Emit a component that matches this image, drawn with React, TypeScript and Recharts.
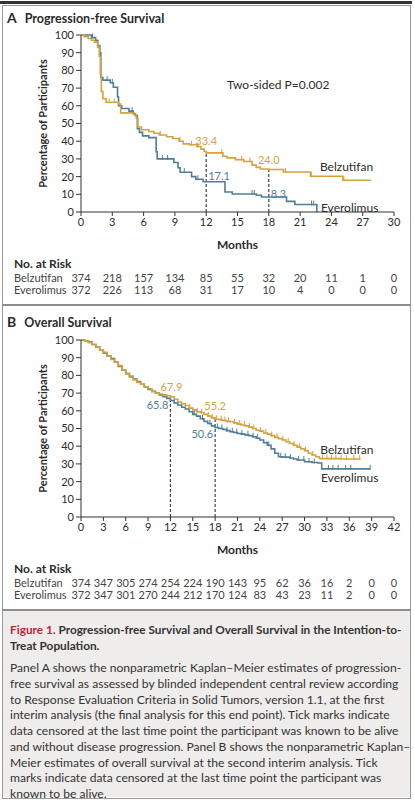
import React from "react";
import {
  ComposedChart,
  Line,
  Scatter,
  XAxis,
  YAxis,
  ReferenceLine,
  ReferenceDot,
} from "recharts";

if (typeof document !== "undefined") document.body.style.margin = "0";

const FONT = "Lato, 'Open Sans', sans-serif";
const GOLD = "#d6a13f";
const BLUE = "#4f7f97";
const INK = "#2b2b2b";

// Panel A: progression-free survival, [month, % of participants]
const pfsTicks = [0, 3, 6, 9, 12, 15, 18, 21, 24, 27, 30];
const pfsBelzutifan: [number, number][] = [
  [0, 100], [0.3, 99], [0.7, 98], [1.0, 97], [1.3, 96], [1.6, 93], [1.75, 88],
  [1.85, 78], [1.95, 68], [2.1, 64], [2.4, 62], [3.6, 61], [3.8, 56], [5.1, 55],
  [5.3, 53], [5.45, 48], [5.8, 46.5], [6.5, 45.5], [7.0, 44.5], [7.5, 43.5],
  [8.2, 42.5], [8.8, 41.5], [9.4, 40], [9.8, 38.5], [10.4, 38], [11.1, 37],
  [11.5, 35.5], [11.8, 34.2], [12.0, 33.4], [13.6, 31.5], [14.0, 30.6],
  [14.8, 29.6], [15.6, 28.5], [16.4, 26.5], [16.8, 25.2], [17.2, 24.3],
  [18.0, 24.0], [19.4, 22.6], [22.0, 20.2], [25.1, 17.9], [27.8, 17.9],
];
const pfsEverolimus: [number, number][] = [
  [0, 100], [1.0, 98.5], [1.4, 97], [1.6, 94], [1.8, 90], [1.9, 76], [2.1, 74.5],
  [2.8, 73], [3.1, 70.5], [3.5, 65], [3.6, 60], [3.9, 58.5], [4.6, 57], [5.0, 55.5],
  [5.2, 54.5], [5.4, 47], [5.6, 45], [5.9, 43], [6.5, 42], [7.2, 34], [7.3, 30],
  [8.9, 28], [9.3, 25], [9.5, 22.5], [10.6, 20], [11.0, 18.5], [11.7, 17.1],
  [13.8, 11.3], [14.5, 10.2], [16.8, 9.5], [17.3, 8.5], [19.7, 6.0], [20.5, 4.2],
  [22.6, 0],
];
const pfsCensorBelzutifan: [number, number][] = [
  [2.7, 62], [3.2, 62], [7.6, 43.5], [9.5, 40], [10.6, 38], [11.2, 37],
  [13.5, 33.4], [15.4, 29.6], [16.2, 28.5], [19.6, 22.6], [22.1, 20.2], [25.2, 17.9],
];
const pfsCensorEverolimus: [number, number][] = [
  [1.1, 98.5], [2.5, 74.5], [3.0, 73], [4.9, 57], [7.8, 30], [8.3, 30], [9.9, 22.5],
  [11.2, 18.5], [16.4, 10.2], [16.6, 10.2], [22.1, 4.2], [22.3, 4.2],
];
const pfsRiskBelzutifan = [374, 218, 157, 134, 85, 55, 32, 20, 11, 1, 0];
const pfsRiskEverolimus = [372, 226, 113, 68, 31, 17, 10, 4, 0, 0, 0];

// Panel B: overall survival, [month, % of participants]
const osTicks = [0, 3, 6, 9, 12, 15, 18, 21, 24, 27, 30, 33, 36, 39, 42];
const osBelzutifan: [number, number][] = [
  [0, 100], [0.5, 99.5], [1, 98.5], [1.5, 97.5], [2, 96], [2.5, 94.5], [3, 93],
  [3.5, 91], [4, 89], [4.5, 87.5], [5, 85.5], [5.5, 83], [6, 81], [6.5, 79],
  [7, 77.5], [7.5, 76], [8, 75], [8.5, 73.5], [9, 72.5], [9.5, 71], [10, 70],
  [10.5, 69.5], [11, 69], [11.5, 68.5], [12, 67.9], [12.5, 66.5], [13, 65],
  [13.5, 64], [14, 63], [14.5, 61.5], [15, 60.5], [15.5, 59.5], [16, 59],
  [16.5, 58], [17, 57], [17.5, 56], [18, 55.2], [18.5, 55], [19, 54.5], [19.5, 54],
  [20, 53.8], [20.5, 53.2], [21, 52.5], [21.5, 52], [22, 51.5], [22.5, 50.8],
  [23, 50], [23.5, 49], [24, 48.5], [24.5, 47.5], [25, 46.8], [25.5, 46], [26, 45],
  [26.5, 44.3], [27, 43.5], [27.5, 42.5], [28, 41.5], [28.5, 40.5], [29, 39.5],
  [29.5, 38.5], [30, 37.5], [30.5, 36], [31, 35], [31.5, 34], [32, 33],
  [34.8, 32.8], [37.5, 32.8],
];
const osEverolimus: [number, number][] = [
  [0, 100], [0.5, 99.5], [1, 98.8], [1.5, 97.5], [2, 96], [2.5, 94.5], [3, 92.5],
  [3.5, 91], [4, 89.5], [4.5, 87.5], [5, 85], [5.5, 83], [6, 81], [6.5, 79.5],
  [7, 78], [7.5, 76.5], [8, 75], [8.5, 73.5], [9, 72], [9.5, 71], [10, 70],
  [10.5, 69], [11, 68], [11.5, 67], [12, 65.8], [12.5, 64.5], [13, 63.3],
  [13.5, 62], [14, 61], [14.5, 59.5], [15, 58], [15.5, 57], [16, 55.5], [16.5, 54],
  [17, 52.8], [17.5, 51.5], [18, 50.6], [18.5, 50], [19, 49.5], [19.5, 48.8],
  [20, 48.2], [20.5, 47.7], [21, 47.2], [21.5, 46.8], [22, 46.4], [22.5, 46],
  [23, 45.3], [23.5, 44.5], [24, 43.5], [24.5, 42], [25, 40.5], [25.5, 38.5],
  [26, 36], [26.5, 34], [27, 33.8], [28, 33.3], [28.5, 32.8], [29, 32.2],
  [30, 31.2], [31, 30.8], [31.8, 30.5], [32.3, 27.2], [38.8, 27.2],
];
const osCensorBelzutifan: [number, number][] = [
  [14.6, 61.5], [15.6, 59.5], [16.2, 59], [17.1, 57], [17.6, 56], [18.2, 55.2],
  [18.8, 55], [19.3, 54.5], [19.8, 54], [20.6, 53.2], [21.3, 52.5], [21.9, 52],
  [22.6, 50.8], [23.2, 50], [24.1, 48.5], [24.8, 47.5], [25.6, 46], [26.3, 45],
  [27.1, 43.5], [27.8, 42.5], [28.6, 40.5], [29.3, 39.5], [30.1, 37.5], [31.1, 35],
  [32.4, 33], [33.0, 33], [33.6, 33], [34.2, 33], [34.9, 32.8], [35.6, 32.8],
  [36.6, 32.8], [37.4, 32.8],
];
const osCensorEverolimus: [number, number][] = [
  [15.2, 58], [16.3, 55.5], [17.3, 52.8], [18.3, 50.6], [18.9, 50], [19.6, 48.8],
  [20.3, 48.2], [20.9, 47.7], [21.6, 46.8], [22.4, 46.4], [23.1, 45.3], [23.7, 44.5],
  [25.2, 40.5], [26.8, 34], [27.4, 33.8], [28.1, 33.3], [29.2, 32.2], [29.9, 32.2],
  [30.6, 31.2], [31.3, 30.8], [33.2, 27.2], [33.8, 27.2], [34.5, 27.2], [35.5, 27.2],
  [36.2, 27.2], [38.8, 27.2],
];
const osRiskBelzutifan = [374, 347, 305, 274, 254, 224, 190, 143, 95, 62, 36, 16, 2, 0, 0];
const osRiskEverolimus = [372, 347, 301, 270, 244, 212, 170, 124, 83, 43, 23, 11, 2, 0, 0];

const yTicks = [0, 10, 20, 30, 40, 50, 60, 70, 80, 90, 100];

const captionBody = [
  "Panel A shows the nonparametric Kaplan–Meier estimates of progression-",
  "free survival as assessed by blinded independent central review according",
  "to Response Evaluation Criteria in Solid Tumors, version 1.1, at the first",
  "interim analysis (the final analysis for this end point). Tick marks indicate",
  "data censored at the last time point the participant was known to be alive",
  "and without disease progression. Panel B shows the nonparametric Kaplan–",
  "Meier estimates of overall survival at the second interim analysis. Tick",
  "marks indicate data censored at the last time point the participant was",
  "known to be alive.",
];

type Pt = [number, number];
type Note = { x: number; y: number; text: string; color: string; dx: number; dy: number; anchor: string; size?: number };

const toRows = (pts: Pt[]) => pts.map(([x, y]) => ({ x, y }));

function censorShape(color: string) {
  return (p: any) => (
    <line x1={p.cx} x2={p.cx} y1={p.cy - 4} y2={p.cy + 1} stroke={color} strokeWidth={1} />
  );
}

interface PanelProps {
  xMax: number;
  ticks: number[];
  belz: Pt[];
  ever: Pt[];
  belzCensor: Pt[];
  everCensor: Pt[];
  riskBelz: number[];
  riskEver: number[];
  marks: { x: number; belz: number; ever: number }[];
  notes: Note[];
}

function KmPanel({ xMax, ticks, belz, ever, belzCensor, everCensor, riskBelz, riskEver, marks, notes }: PanelProps) {
  const renderTick = (p: any) => {
    const i = ticks.indexOf(p.payload.value);
    return (
      <g fontFamily={FONT}>
        <text x={p.x} y={p.y} dy="0.71em" textAnchor="middle" fontSize={11} fill={INK}>
          {p.payload.value}
        </text>
        <text x={p.x} y={p.y + 59} textAnchor="middle" dominantBaseline="central" fontSize={11} fill="#444">
          {riskBelz[i]}
        </text>
        <text x={p.x} y={p.y + 71} textAnchor="middle" dominantBaseline="central" fontSize={11} fill="#444">
          {riskEver[i]}
        </text>
        {i === 0 && (
          <>
            <text x={14} y={p.y + 45} dominantBaseline="central" fontSize={12} fontWeight={700} fill={INK}>
              No. at Risk
            </text>
            <text x={14} y={p.y + 59} dominantBaseline="central" fontSize={11} fill="#444">
              Belzutifan
            </text>
            <text x={14} y={p.y + 71} dominantBaseline="central" fontSize={11} fill="#444">
              Everolimus
            </text>
          </>
        )}
      </g>
    );
  };

  return (
    <ComposedChart width={414} height={305} margin={{ top: 35, right: 20, left: 11, bottom: 0 }}>
      <XAxis
        dataKey="x"
        type="number"
        domain={[0, xMax]}
        ticks={ticks}
        interval={0}
        allowDataOverflow
        height={93}
        tickSize={4}
        tickMargin={2}
        stroke="#333"
        tick={renderTick}
        label={({ viewBox }: any) => (
          <text
            x={viewBox.x + viewBox.width / 2}
            y={viewBox.y + 32}
            textAnchor="middle"
            dominantBaseline="central"
            fontFamily={FONT}
            fontSize={12}
            fontWeight={700}
            fill={INK}
          >
            Months
          </text>
        )}
      />
      <YAxis
        dataKey="y"
        type="number"
        domain={[0, 100]}
        ticks={yTicks}
        interval={0}
        width={70}
        tickSize={5}
        tickMargin={2}
        stroke="#333"
        tick={{ fontSize: 11, fill: INK, fontFamily: FONT }}
        label={({ viewBox }: any) => {
          const cx = viewBox.x + viewBox.width - 39;
          const cy = viewBox.y + viewBox.height / 2;
          return (
            <text
              x={cx}
              y={cy}
              transform={`rotate(-90 ${cx} ${cy})`}
              textAnchor="middle"
              dominantBaseline="central"
              fontFamily={FONT}
              fontSize={11}
              fontWeight={700}
              fill={INK}
            >
              Percentage of Participants
            </text>
          );
        }}
      />
      {marks.map((m) => (
        <ReferenceLine
          key={m.x}
          segment={[{ x: m.x, y: 0 }, { x: m.x, y: Math.max(m.belz, m.ever) }]}
          stroke="#444"
          strokeWidth={1.2}
          strokeDasharray="3 2"
        />
      ))}
      <Line
        data={toRows(ever)}
        dataKey="y"
        type="stepAfter"
        stroke={BLUE}
        strokeWidth={1.6}
        dot={false}
        activeDot={false}
        isAnimationActive={false}
      />
      <Line
        data={toRows(belz)}
        dataKey="y"
        type="stepAfter"
        stroke={GOLD}
        strokeWidth={1.6}
        dot={false}
        activeDot={false}
        isAnimationActive={false}
      />
      <Scatter data={toRows(everCensor)} shape={censorShape(BLUE)} isAnimationActive={false} />
      <Scatter data={toRows(belzCensor)} shape={censorShape(GOLD)} isAnimationActive={false} />
      {notes.map((n, k) => (
        <ReferenceDot
          key={k}
          x={n.x}
          y={n.y}
          r={0}
          shape={(p: any) => (
            <text
              x={p.cx + n.dx}
              y={p.cy + n.dy}
              textAnchor={n.anchor}
              dominantBaseline="central"
              fontFamily={FONT}
              fontSize={n.size ?? 11}
              fill={n.color}
            >
              {n.text}
            </text>
          )}
        />
      ))}
    </ComposedChart>
  );
}

const pfsNotes: Note[] = [
  { x: 12, y: 33.4, text: "33.4", color: GOLD, dx: 0, dy: -12, anchor: "middle" },
  { x: 12, y: 17.1, text: "17.1", color: BLUE, dx: 2, dy: -6, anchor: "start" },
  { x: 18, y: 24.0, text: "24.0", color: GOLD, dx: 0, dy: -10, anchor: "middle" },
  { x: 18, y: 8.3, text: "8.3", color: BLUE, dx: 2, dy: -4, anchor: "start" },
  { x: 18.9, y: 72.3, text: "Two-sided P=0.002", color: INK, dx: 0, dy: 0, anchor: "middle", size: 12 },
  { x: 22.9, y: 25.9, text: "Belzutifan", color: INK, dx: 0, dy: 0, anchor: "start", size: 12 },
  { x: 23.0, y: 2.7, text: "Everolimus", color: INK, dx: 0, dy: 0, anchor: "start", size: 12 },
];

const osNotes: Note[] = [
  { x: 12, y: 67.9, text: "67.9", color: GOLD, dx: 1, dy: -10, anchor: "middle" },
  { x: 12, y: 65.8, text: "65.8", color: BLUE, dx: -2, dy: 4, anchor: "end" },
  { x: 18, y: 55.2, text: "55.2", color: GOLD, dx: 0, dy: -14, anchor: "middle" },
  { x: 18, y: 50.6, text: "50.6", color: BLUE, dx: -2, dy: 6, anchor: "end" },
  { x: 32.1, y: 38.1, text: "Belzutifan", color: INK, dx: 0, dy: 0, anchor: "start", size: 12 },
  { x: 32.2, y: 22.2, text: "Everolimus", color: INK, dx: 0, dy: 0, anchor: "start", size: 12 },
];

function PanelTitle({ letter, text, top }: { letter: string; text: string; top: number }) {
  return (
    <div style={{ position: "absolute", left: 7, top, fontFamily: FONT, color: INK, whiteSpace: "nowrap", lineHeight: "16px" }}>
      <span style={{ fontWeight: 700, fontSize: 14 }}>{letter}</span>
      <span style={{ fontWeight: 700, fontSize: 12.5, marginLeft: 8 }}>{text}</span>
    </div>
  );
}

export default function App() {
  return (
    <div style={{ position: "relative", width: 414, height: 800, background: "#fff", overflow: "hidden" }}>
      {/* frame */}
      <div style={{ position: "absolute", left: 0, top: 1, width: 412, height: 3, background: "#333" }} />
      <div style={{ position: "absolute", left: 2, top: 5, width: 407, height: 792, border: "1px solid #9a9a9a" }} />
      <div style={{ position: "absolute", left: 2, top: 304, width: 409, height: 2, background: "#8d8d8d" }} />
      <div style={{ position: "absolute", left: 3, top: 611, width: 407, height: 186, background: "#eeedeb" }} />
      <div style={{ position: "absolute", left: 2, top: 609, width: 409, height: 2, background: "#8d8d8d" }} />

      <PanelTitle letter="A" text="Progression-free Survival" top={9} />
      <div style={{ position: "absolute", left: 0, top: 0 }}>
        <KmPanel
          xMax={30}
          ticks={pfsTicks}
          belz={pfsBelzutifan}
          ever={pfsEverolimus}
          belzCensor={pfsCensorBelzutifan}
          everCensor={pfsCensorEverolimus}
          riskBelz={pfsRiskBelzutifan}
          riskEver={pfsRiskEverolimus}
          marks={[{ x: 12, belz: 33.4, ever: 17.1 }, { x: 18, belz: 24.0, ever: 8.3 }]}
          notes={pfsNotes}
        />
      </div>

      <PanelTitle letter="B" text="Overall Survival" top={313} />
      <div style={{ position: "absolute", left: 0, top: 305 }}>
        <KmPanel
          xMax={42}
          ticks={osTicks}
          belz={osBelzutifan}
          ever={osEverolimus}
          belzCensor={osCensorBelzutifan}
          everCensor={osCensorEverolimus}
          riskBelz={osRiskBelzutifan}
          riskEver={osRiskEverolimus}
          marks={[{ x: 12, belz: 67.9, ever: 65.8 }, { x: 18, belz: 55.2, ever: 50.6 }]}
          notes={osNotes}
        />
      </div>

      <div style={{ position: "absolute", left: 10, top: 622, width: 400, fontFamily: FONT, color: "#333" }}>
        <div style={{ fontSize: 11.8, fontWeight: 700, lineHeight: "16px", whiteSpace: "nowrap" }}>
          <span style={{ color: "#b82a3c" }}>Figure 1.</span> Progression-free Survival and Overall Survival in the Intention-to-
        </div>
        <div style={{ fontSize: 11.8, fontWeight: 700, lineHeight: "16px" }}>Treat Population.</div>
        <div style={{ marginTop: 6 }}>
          {captionBody.map((line) => (
            <div key={line} style={{ fontSize: 12.1, lineHeight: "15.75px", whiteSpace: "nowrap" }}>
              {line}
            </div>
          ))}
        </div>
      </div>
    </div>
  );
}
